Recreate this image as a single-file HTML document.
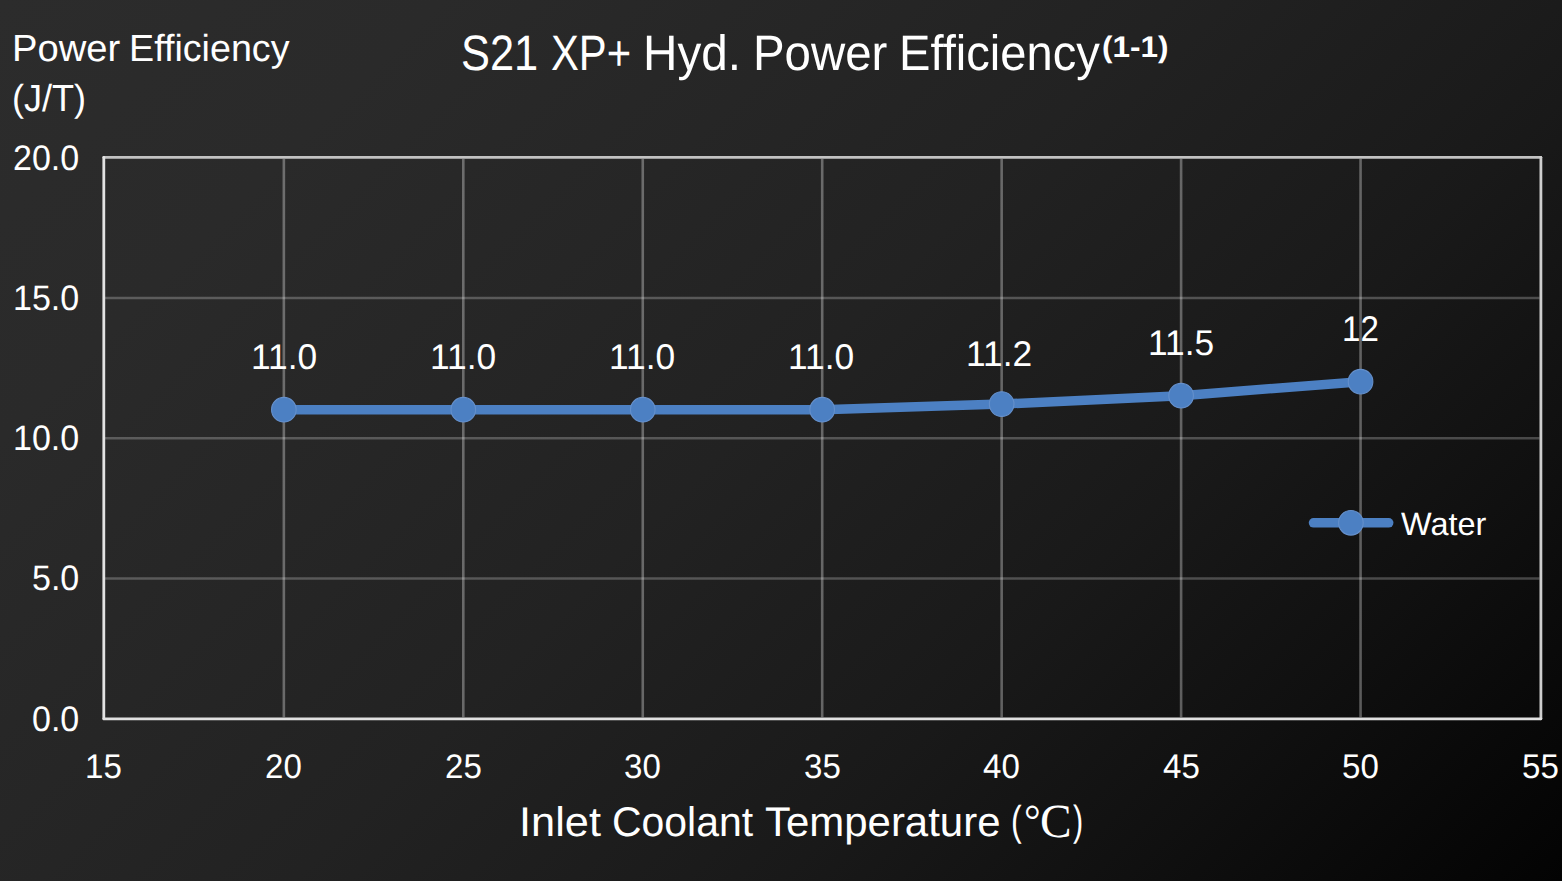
<!DOCTYPE html>
<html><head><meta charset="utf-8"><title>S21 XP+ Hyd. Power Efficiency</title><style>
html,body{margin:0;padding:0;}
body{width:1562px;height:881px;overflow:hidden;position:relative;background:linear-gradient(135deg, #2c2c2c 0%, #2a2a2a 18%, #262626 34%, #222222 48%, #1b1b1b 64%, #191919 68%, #101010 82%, #080808 93%, #030303 100%);font-family:"Liberation Sans",sans-serif;color:#fff;}
.t{position:absolute;white-space:nowrap;line-height:1;transform-origin:0 0;text-rendering:geometricPrecision;}
.b{font-weight:bold;}
.s{font-family:"Liberation Serif",serif;}
svg{position:absolute;left:0;top:0;}
</style></head><body>
<svg width="1562" height="881" viewBox="0 0 1562 881">
<line x1="105" y1="578.50" x2="1539.5" y2="578.50" stroke="#fff" stroke-opacity="0.24" stroke-width="2.6"/>
<line x1="105" y1="438.25" x2="1539.5" y2="438.25" stroke="#fff" stroke-opacity="0.24" stroke-width="2.6"/>
<line x1="105" y1="298.00" x2="1539.5" y2="298.00" stroke="#fff" stroke-opacity="0.24" stroke-width="2.6"/>
<line x1="283.85" y1="159" x2="283.85" y2="717.3" stroke="#fff" stroke-opacity="0.32" stroke-width="2.6"/>
<line x1="463.30" y1="159" x2="463.30" y2="717.3" stroke="#fff" stroke-opacity="0.32" stroke-width="2.6"/>
<line x1="642.76" y1="159" x2="642.76" y2="717.3" stroke="#fff" stroke-opacity="0.32" stroke-width="2.6"/>
<line x1="822.21" y1="159" x2="822.21" y2="717.3" stroke="#fff" stroke-opacity="0.32" stroke-width="2.6"/>
<line x1="1001.66" y1="159" x2="1001.66" y2="717.3" stroke="#fff" stroke-opacity="0.32" stroke-width="2.6"/>
<line x1="1181.11" y1="159" x2="1181.11" y2="717.3" stroke="#fff" stroke-opacity="0.32" stroke-width="2.6"/>
<line x1="1360.56" y1="159" x2="1360.56" y2="717.3" stroke="#fff" stroke-opacity="0.32" stroke-width="2.6"/>
<line x1="103.8" y1="157.4" x2="1540.9" y2="157.4" stroke="#c2c2c2" stroke-width="2.8" stroke-linecap="round"/>
<line x1="1540.9" y1="157.4" x2="1540.9" y2="718.8" stroke="#cecece" stroke-width="2.8" stroke-linecap="round"/>
<line x1="103.8" y1="718.8" x2="1540.9" y2="718.8" stroke="#e0e0e0" stroke-width="2.8" stroke-linecap="round"/>
<line x1="103.8" y1="157.4" x2="103.8" y2="718.8" stroke="#e2e2e2" stroke-width="2.8" stroke-linecap="round"/>
<path d="M283.85 409.70 L463.30 409.70 L642.76 409.70 L822.21 409.70 L1001.66 404.09 L1181.11 395.68 L1360.56 381.65" fill="none" stroke="#4c80c3" stroke-width="9.5" stroke-linejoin="round" stroke-linecap="round"/>
<circle cx="283.85" cy="409.70" r="12.3" fill="#4c80c3" stroke="#6590cc" stroke-width="1.1"/>
<circle cx="463.30" cy="409.70" r="12.3" fill="#4c80c3" stroke="#6590cc" stroke-width="1.1"/>
<circle cx="642.76" cy="409.70" r="12.3" fill="#4c80c3" stroke="#6590cc" stroke-width="1.1"/>
<circle cx="822.21" cy="409.70" r="12.3" fill="#4c80c3" stroke="#6590cc" stroke-width="1.1"/>
<circle cx="1001.66" cy="404.09" r="12.3" fill="#4c80c3" stroke="#6590cc" stroke-width="1.1"/>
<circle cx="1181.11" cy="395.68" r="12.3" fill="#4c80c3" stroke="#6590cc" stroke-width="1.1"/>
<circle cx="1360.56" cy="381.65" r="12.3" fill="#4c80c3" stroke="#6590cc" stroke-width="1.1"/>
<line x1="1313.5" y1="522.8" x2="1388.7" y2="522.8" stroke="#4c80c3" stroke-width="9.5" stroke-linecap="round"/>
<circle cx="1350.9" cy="522.8" r="12.3" fill="#4c80c3" stroke="#6590cc" stroke-width="1.1"/>
</svg>
<div class="t" id="pe1" style="left:11.63px;top:30.51px;font-size:37.79px;transform:scaleX(1.0108);">Power</div>
<div class="t" id="pe2" style="left:128.81px;top:30.51px;font-size:37.79px;transform:scaleX(0.9971);">Efficiency</div>
<div class="t" id="jt" style="left:12.15px;top:79.89px;font-size:37.73px;transform:scaleX(0.9562);">(J/T)</div>
<div class="t" id="ti0" style="left:460.55px;top:28.52px;font-size:49.71px;transform:scaleX(0.8729);">S21</div>
<div class="t" id="ti1" style="left:551.15px;top:28.52px;font-size:49.71px;transform:scaleX(0.8405);">XP+</div>
<div class="t" id="ti2" style="left:643.29px;top:28.52px;font-size:49.70px;transform:scaleX(0.9587);">Hyd.</div>
<div class="t" id="ti3" style="left:752.86px;top:28.52px;font-size:49.70px;transform:scaleX(0.9540);">Power</div>
<div class="t" id="ti4" style="left:898.85px;top:28.52px;font-size:49.70px;transform:scaleX(0.9484);">Efficiency</div>
<div class="t b" id="sup" style="left:1101.84px;top:32.94px;font-size:29.80px;transform:scaleX(1.0561);">(1-1)</div>
<div class="t" id="y20" style="left:13.02px;top:140.85px;font-size:35.42px;transform:scaleX(0.9605);">20.0</div>
<div class="t" id="y15" style="left:12.97px;top:280.58px;font-size:35.42px;transform:scaleX(0.9605);">15.0</div>
<div class="t" id="y10" style="left:12.99px;top:420.85px;font-size:35.42px;transform:scaleX(0.9605);">10.0</div>
<div class="t" id="y5" style="left:31.79px;top:560.58px;font-size:35.42px;transform:scaleX(0.9605);">5.0</div>
<div class="t" id="y0" style="left:31.99px;top:701.85px;font-size:35.42px;transform:scaleX(0.9605);">0.0</div>
<div class="t" id="x15" style="left:84.99px;top:749.76px;font-size:34.07px;transform:scaleX(0.9710);">15</div>
<div class="t" id="x20" style="left:265.10px;top:749.97px;font-size:34.07px;transform:scaleX(0.9710);">20</div>
<div class="t" id="x25" style="left:444.53px;top:749.97px;font-size:34.07px;transform:scaleX(0.9710);">25</div>
<div class="t" id="x30" style="left:624.12px;top:749.97px;font-size:34.07px;transform:scaleX(0.9710);">30</div>
<div class="t" id="x35" style="left:803.54px;top:749.96px;font-size:34.07px;transform:scaleX(0.9710);">35</div>
<div class="t" id="x40" style="left:983.44px;top:749.97px;font-size:34.07px;transform:scaleX(0.9710);">40</div>
<div class="t" id="x45" style="left:1162.87px;top:749.76px;font-size:34.07px;transform:scaleX(0.9710);">45</div>
<div class="t" id="x50" style="left:1342.37px;top:749.97px;font-size:34.07px;transform:scaleX(0.9710);">50</div>
<div class="t" id="x55" style="left:1521.80px;top:749.76px;font-size:34.07px;transform:scaleX(0.9710);">55</div>
<div class="t" id="xt0" style="left:519.08px;top:800.55px;font-size:41.43px;transform:scaleX(1.0463);">Inlet</div>
<div class="t" id="xt1" style="left:612.19px;top:800.55px;font-size:41.43px;transform:scaleX(0.9878);">Coolant</div>
<div class="t" id="xt2" style="left:764.71px;top:800.55px;font-size:41.43px;transform:scaleX(1.0126);">Temperature</div>
<div class="t" id="xt3" style="left:1011.21px;top:799.58px;font-size:41.88px;transform:scaleX(0.7625);">(</div>
<div class="t s" id="xt4" style="left:1024.19px;top:798.78px;font-size:44.23px;transform:scaleX(0.9409);">°</div>
<div class="t s" id="xt5" style="left:1040.06px;top:798.78px;font-size:47.55px;transform:scaleX(0.9958);">C</div>
<div class="t" id="xt6" style="left:1072.76px;top:799.74px;font-size:42.19px;transform:scaleX(0.7232);">)</div>
<div class="t" id="d20" style="left:250.80px;top:339.77px;font-size:35.70px;transform:scaleX(0.9903);">11.0</div>
<div class="t" id="d25" style="left:430.20px;top:339.89px;font-size:35.70px;transform:scaleX(0.9903);">11.0</div>
<div class="t" id="d30" style="left:609.06px;top:339.97px;font-size:35.70px;transform:scaleX(0.9903);">11.0</div>
<div class="t" id="d35" style="left:788.42px;top:339.97px;font-size:35.70px;transform:scaleX(0.9903);">11.0</div>
<div class="t" id="d40" style="left:965.92px;top:336.93px;font-size:35.70px;transform:scaleX(0.9903);">11.2</div>
<div class="t" id="d45" style="left:1147.98px;top:325.73px;font-size:35.70px;transform:scaleX(0.9903);">11.5</div>
<div class="t" id="d50" style="left:1341.62px;top:311.51px;font-size:35.70px;transform:scaleX(0.9275);">12</div>
<div class="t" id="water" style="left:1400.71px;top:507.58px;font-size:32.27px;transform:scaleX(1.0055);">Water</div>
</body></html>
